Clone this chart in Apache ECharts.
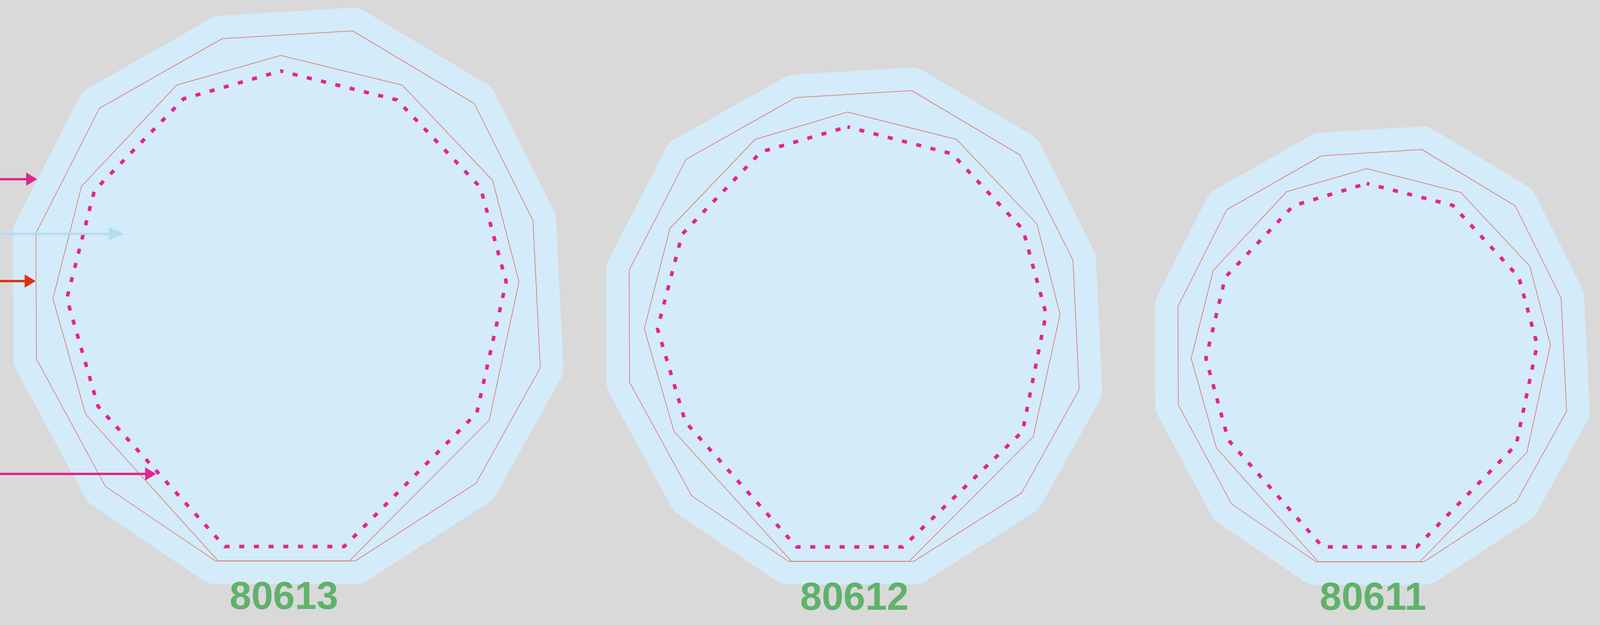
<!DOCTYPE html>
<html><head><meta charset="utf-8">
<style>html,body{margin:0;padding:0;background:#D9D9D9;overflow:hidden}#c{width:100vw;height:100vh}</style>
<script src="https://cdn.jsdelivr.net/npm/echarts@6/dist/echarts.min.js"></script>
</head><body><div id="c"></div>
<script>
const labels = ['80613','80612','80611'];
const labelX = [773, 2326, 3738];
const labelY = [1582, 1584, 1584];

const outer80613 = [[960,79],[1291,265],[1451,565],[1471,942],[1296,1238],[967,1437],[587,1437],[287,1246],[99,919],[98,597],[271,277],[605,99]];
const middle80613 = [[764,142],[1095,218],[1341,462],[1413,722],[1332,1076],[951,1437],[594,1437],[233,1061],[144,765],[222,477],[481,218]];
const inner80613 = [[764,182],[1081,256],[1308,480],[1378,722],[1298,1058],[937,1400],[612,1400],[267,1041],[182,765],[257,488],[500,253]];

const outer80612 = [[2482,232],[2777,397],[2921,666],[2938,998],[2781,1263],[2488,1438],[2147,1438],[1883,1270],[1714,979],[1713,692],[1868,408],[2166,250]];
const middle80612 = [[2307,287],[2604,357],[2823,574],[2886,805],[2813,1119],[2475,1438],[2155,1438],[1835,1105],[1754,842],[1824,585],[2056,357]];
const inner80612 = [[2307,325],[2592,394],[2785,588],[2848,804],[2784,1105],[2458,1401],[2169,1401],[1866,1081],[1790,842],[1857,600],[2072,389]];

const outer80611 = [[3871,383],[4125,527],[4250,763],[4265,1053],[4129,1284],[3877,1439],[3583,1439],[3353,1291],[3208,1037],[3207,785],[3340,537],[3598,399]];
const middle80611 = [[3721,432],[3977,493],[4165,682],[4221,883],[4157,1159],[3865,1439],[3589,1439],[3312,1148],[3243,918],[3303,693],[3503,491]];
const inner80611 = [[3721,470],[3955,526],[4135,710],[4185,883],[4128,1139],[3857,1401],[3601,1401],[3344,1127],[3283,918],[3336,710],[3521,527]];

const outers = [outer80613, outer80612, outer80611];
const middles = [middle80613, middle80612, middle80611];
const inners = [inner80613, inner80612, inner80611];

const arrowY = [459, 599, 720, 1214];
const arrowTip = [101, 338, 97, 425];
const arrowColors = ['#E3258F', '#B3DDF1', '#E22D16', '#E3258F'];

const FILL = '#D4EBF9', THIN = '#DA6A5F', DASH = '#E3258F', GREEN = '#5FB26C';

function polySeries(rings, style) {
  return {
    type: 'custom', coordinateSystem: 'cartesian2d', silent: true, clip: false,
    encode: {x: 0, y: 1},
    data: rings.map((r, i) => [r[0][0], r[0][1], i]),
    renderItem(params, api) {
      const ring = rings[api.value(2)];
      return {type: 'polygon', shape: {points: ring.map(p => api.coord(p))}, style};
    }
  };
}

const option = {
  animation: false,
  backgroundColor: '#D9D9D9',
  grid: {left: 0, right: 0, top: 0, bottom: 0},
  xAxis: {type: 'value', min: 0, max: 4356, show: false},
  yAxis: {type: 'value', min: 0, max: 1601, inverse: true, show: false},
  series: [
    polySeries(outers, {fill: FILL, stroke: FILL, lineWidth: 118, lineJoin: 'round'}),
    polySeries(outers, {fill: 'none', stroke: THIN, lineWidth: 1.5, lineJoin: 'miter'}),
    polySeries(middles, {fill: 'none', stroke: THIN, lineWidth: 1.5, lineJoin: 'miter'}),
    polySeries(inners, {fill: 'none', stroke: DASH, lineWidth: 9, lineDash: [13, 24.6], lineDashOffset: 6}),
    {
      type: 'custom', coordinateSystem: 'cartesian2d', silent: true, clip: false,
      encode: {x: 0, y: 1},
      data: arrowY.map((y, i) => [arrowTip[i], y, i]),
      renderItem(params, api) {
        const tip = api.coord([api.value(0), api.value(1)]);
        const i = api.value(2);
        const color = arrowColors[i];
        const start = api.coord([0, api.value(1)]);
        const head = i === 1 ? 39 : 28;
        return {type: 'group', children: [
          {type: 'line', shape: {x1: start[0], y1: start[1], x2: tip[0] - head + 2, y2: tip[1]}, style: {stroke: color, lineWidth: 6}},
          {type: 'polygon', shape: {points: [[tip[0], tip[1]], [tip[0] - head, tip[1] - 17], [tip[0] - head, tip[1] + 17]]}, style: {fill: color}}
        ]};
      }
    },
    {
      type: 'custom', coordinateSystem: 'cartesian2d', silent: true, clip: false,
      encode: {x: 0, y: 1},
      data: labels.map((t, i) => [labelX[i], labelY[i], t]),
      renderItem(params, api) {
        const c = api.coord([api.value(0), api.value(1)]);
        return {type: 'text', style: {x: c[0], y: c[1], text: labels[params.dataIndex], fill: GREEN,
          font: 'bold 100px "Liberation Sans", Arial, sans-serif', textAlign: 'center', textVerticalAlign: 'bottom'}};
      }
    }
  ]
};
const chart = echarts.init(document.getElementById('c'), null, {renderer: 'canvas', devicePixelRatio: 1});
chart.setOption(option);
</script></body></html>
